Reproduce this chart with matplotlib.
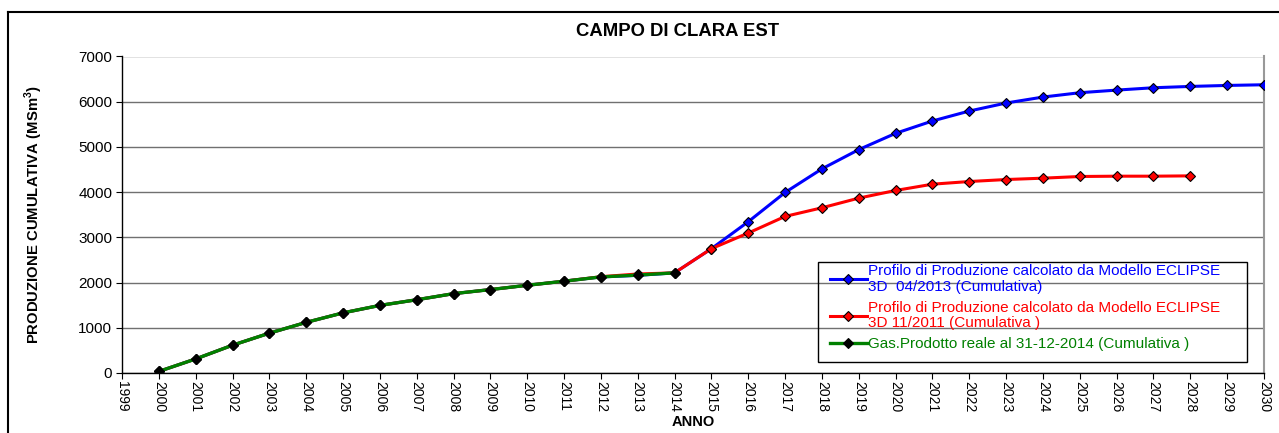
import numpy as np
import matplotlib
matplotlib.use("Agg")
import matplotlib.pyplot as plt
from matplotlib.lines import Line2D
from matplotlib.patches import Rectangle

plt.rcParams['font.family'] = ['Liberation Sans', 'DejaVu Sans']
plt.rcParams['mathtext.fontset'] = 'custom'
plt.rcParams['mathtext.rm'] = 'Liberation Sans'
plt.rcParams['mathtext.bf'] = 'Liberation Sans:bold'

# dati
anni_storia = list(range(2000, 2015))
prod_reale = [35, 311, 615, 881, 1120, 1330, 1495, 1620, 1755, 1845, 1940, 2030, 2125, 2165, 2215]

anni_2013 = list(range(2000, 2031))
eclipse_2013 = [35, 311, 615, 881, 1120, 1330, 1495, 1620, 1755, 1845, 1940, 2030, 2125, 2160, 2215,
                2750, 3346, 3993, 4515, 4941, 5301, 5574, 5794, 5971, 6103, 6199, 6257, 6309, 6338, 6360, 6375]

anni_2011 = list(range(2000, 2029))
eclipse_2011 = [35, 311, 615, 881, 1120, 1330, 1495, 1620, 1755, 1845, 1940, 2030, 2130, 2190, 2215,
                2750, 3096, 3463, 3654, 3868, 4037, 4176, 4235, 4279, 4309, 4346, 4353, 4353, 4360]

lab_blu = "Profilo di Produzione calcolato da Modello ECLIPSE\n3D  04/2013 (Cumulativa)"
lab_rosso = "Profilo di Produzione calcolato da Modello ECLIPSE\n3D 11/2011 (Cumulativa )"
lab_verde = "Gas.Prodotto reale al 31-12-2014 (Cumulativa )"

W, H = 1279, 433
fig = plt.figure(figsize=(W / 100, H / 100), dpi=100)
ax = fig.add_axes([122 / W, 1 - 373 / H, (1264 - 122) / W, (373 - 56.5) / H])

ax.plot(anni_2013, eclipse_2013, color='#0000FF', lw=2.2, marker='D', ms=5.5,
        mfc='#0000FF', mec='black', mew=0.8, label=lab_blu, zorder=3)
ax.plot(anni_2011, eclipse_2011, color='#FF0000', lw=2.2, marker='D', ms=5.5,
        mfc='#FF0000', mec='black', mew=0.8, label=lab_rosso, zorder=4)
ax.plot(anni_storia, prod_reale, color='#008000', lw=2.4, marker='D', ms=5,
        mfc='black', mec='black', mew=0.8, label=lab_verde, zorder=5)

ax.set_xlim(1999, 2030)
ax.set_ylim(0, 7000)
ax.set_xticks(range(1999, 2031))
ax.set_xticklabels([str(a) for a in range(1999, 2031)], rotation=-90, fontsize=10)
ax.set_yticks(range(0, 7001, 1000))
ax.tick_params(axis='y', labelsize=11, length=4, width=0.8, pad=3)
ax.tick_params(axis='x', length=4, width=0.8, pad=2)

ax.yaxis.grid(True, color='#707070', lw=1)
ax.set_axisbelow(True)
ax.spines['top'].set_visible(False)
ax.spines['right'].set_color('#999999')
ax.spines['right'].set_linewidth(1.5)
ax.spines['left'].set_linewidth(1)
ax.spines['bottom'].set_linewidth(1)

ax.set_ylabel(r"PRODUZIONE CUMULATIVA (MSm$^{\mathbf{3}}$)", fontsize=10.7, fontweight='bold',
              va='center')
ax.yaxis.set_label_coords((34 - 122) / (1264 - 122), 0.5)
ax.set_xlabel("ANNO", fontsize=10.5, fontweight='bold')
ax.xaxis.set_label_coords((693 - 122) / (1264 - 122), -(422 - 373) / (373 - 56.5))
ax.xaxis.label.set_va('center')

fig.text(678 / W, 1 - 31 / H, "CAMPO DI CLARA EST", ha='center', va='center',
         fontsize=13.3, fontweight='bold')

leg = fig.legend(loc='upper left', bbox_to_anchor=(830 / W, 1 - 264 / H),
                 bbox_transform=fig.transFigure, fontsize=11, labelcolor='linecolor',
                 frameon=False, handlelength=2.4, handletextpad=0.1, borderpad=0,
                 labelspacing=0.45, borderaxespad=0)
for t in leg.get_texts():
    t.set_linespacing(1.15)

# riquadro legenda
fig.add_artist(Rectangle((818 / W, 1 - 362 / H), (1247 - 818) / W, 100 / H,
                         transform=fig.transFigure, fill=False, edgecolor='black', lw=1))

# cornice esterna
fig.add_artist(Line2D([8 / W, 8 / W], [0, 1 - 12 / H], color='black', lw=1.5,
                      transform=fig.transFigure))
fig.add_artist(Line2D([8 / W, 1], [1 - 12 / H, 1 - 12 / H], color='black', lw=1.5,
                      transform=fig.transFigure))

fig.savefig("out.png", dpi=100)
